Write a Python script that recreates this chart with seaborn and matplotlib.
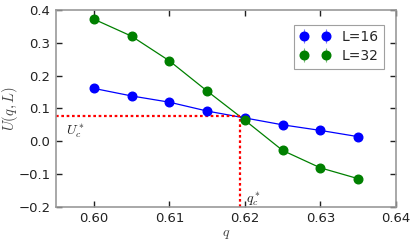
import numpy as np
import pandas as pd
import matplotlib
matplotlib.use("Agg")
import matplotlib.pyplot as plt
import seaborn as sns

q = [0.600, 0.605, 0.610, 0.615, 0.620, 0.625, 0.630, 0.635]
u16 = [0.161, 0.138, 0.119, 0.092, 0.071, 0.050, 0.033, 0.014]
u32 = [0.372, 0.320, 0.245, 0.153, 0.064, -0.028, -0.081, -0.114]
err16 = [0.004] * 8
err32 = [0.005] * 8
labels = ["L=16", "L=32"]
q_c = 0.6194
U_c = 0.076

sns.set_style("ticks")
plt.rcParams['font.family'] = ['DejaVu Sans']
plt.rcParams['mathtext.fontset'] = 'cm'

fig = plt.figure(figsize=(4.15, 2.42), dpi=100)
ax = fig.add_axes([0.135, 0.145, 0.819, 0.814])

df = pd.DataFrame({"q": q * 2, "U": u16 + u32,
                   "L": [labels[0]] * len(q) + [labels[1]] * len(q)})
sns.lineplot(data=df, x="q", y="U", hue="L", palette=["#0000ff", "#008000"],
             linewidth=0.9, legend=False, ax=ax)

ax.errorbar(q, u16, yerr=err16, fmt="o", color="#0000ff", ms=6.2, mec="#0000ff",
            elinewidth=0.8, ecolor="#7777ff", label=labels[0], zorder=3)
ax.errorbar(q, u32, yerr=err32, fmt="o", color="#008000", ms=6.2, mec="#008000",
            elinewidth=0.8, ecolor="#77bb77", label=labels[1], zorder=3)

ax.plot([0.595, q_c], [U_c, U_c], ls=(0, (1.2, 1.2)), color="red", lw=1.6, zorder=2)
ax.plot([q_c, q_c], [-0.2, U_c], ls=(0, (1.2, 1.2)), color="red", lw=1.6, zorder=2)
ax.text(0.5963, 0.022, r"$U_c^*$", fontsize=10, color="#222222")
ax.text(0.6202, -0.185, r"$q_c^*$", fontsize=10, color="#222222")

ax.set_xlim(0.595, 0.64)
ax.set_ylim(-0.2, 0.4)
ax.set_xticks([0.60, 0.61, 0.62, 0.63, 0.64])
ax.set_yticks([-0.2, -0.1, 0.0, 0.1, 0.2, 0.3, 0.4])
ax.set_xticklabels(["0.60", "0.61", "0.62", "0.63", "0.64"])
ax.set_yticklabels(["\u22120.2", "\u22120.1", "0.0", "0.1", "0.2", "0.3", "0.4"])
ax.tick_params(direction="in", length=4, width=1, top=True, right=True,
               labelsize=9.5, colors="#222222", pad=4)
for s in ax.spines.values():
    s.set_color("#999999")
    s.set_linewidth(1.2)
ax.set_xlabel(r"$q$", fontsize=10, color="#444444")
ax.xaxis.set_label_coords(0.5, -0.1)
ax.set_ylabel(r"$U(q,L)$", fontsize=10.5, color="#444444")
ax.yaxis.set_label_coords(-0.105, 0.5)

leg = ax.legend(loc="upper right", numpoints=2, fontsize=10, fancybox=False,
                frameon=True, borderpad=0.4, handlelength=2.2, labelspacing=0.35,
                bbox_to_anchor=(0.985, 0.96))
leg.get_frame().set_edgecolor("#888888")
leg.get_frame().set_linewidth(0.8)

fig.savefig("out.png", dpi=100)
